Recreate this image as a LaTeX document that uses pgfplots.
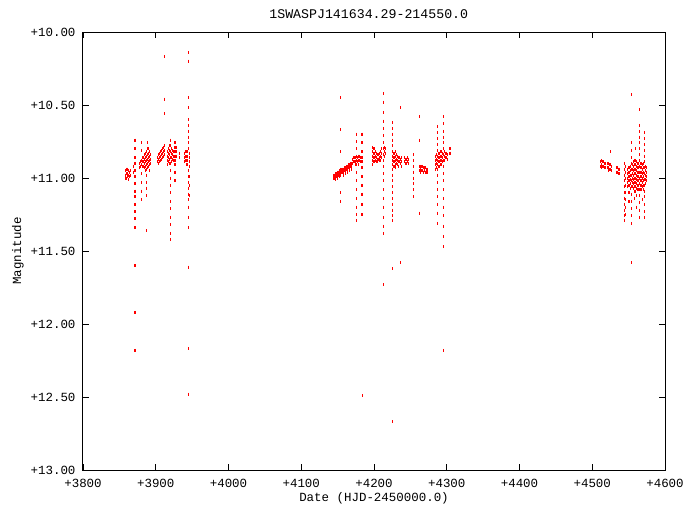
\documentclass[border=0pt]{standalone}
\usepackage{fontspec}
\setmainfont{Liberation Mono}
\usepackage{pgfplots}
\pgfplotsset{compat=1.18}
\begin{document}
\begin{tikzpicture}
\useasboundingbox (-83bp,-35bp) rectangle (600bp,470bp);
\begin{axis}[
 scale only axis, width=582bp, height=438bp,
 xmin=3800, xmax=4600, ymin=10, ymax=13, y dir=reverse,
 xtick={3800,3900,...,4600}, ytick={10,10.5,...,13},
 tick align=inside, major tick length=6bp,
 axis line style={line width=1bp},
 every tick/.style={black, line width=0.8bp},
 /pgf/number format/assume math mode=true,
 tick label style={font=\fontsize{12.5}{14}\selectfont},
 label style={font=\fontsize{12.5}{14}\selectfont},
 title style={font=\fontsize{13.3}{15}\selectfont, at={(axis description cs:0.491,1)}, anchor=center, yshift=12bp},
 xticklabel style={yshift=-6bp, /pgf/number format/.cd, print sign, 1000 sep={}, fixed, precision=0},
 yticklabel style={xshift=-4bp, /pgf/number format/.cd, print sign, fixed, fixed zerofill, precision=2},
 xlabel style={at={(axis description cs:0.5,-0.064)}, anchor=center},
 ylabel style={at={(axis description cs:-0.1117,0.5)}, anchor=center},
 title={1SWASPJ141634.29-214550.0},
 xlabel={Date (HJD-2450000.0)},
 ylabel={Magnitude},
]
\addplot[only marks, mark=|, mark size=1.5bp, red, mark options={line width=1.1bp}] coordinates {
(3858,10.95)(3858,10.98)(3858,11.00)
(3859.5,10.94)(3859.5,10.97)(3859.5,11.00)
(3861,10.94)(3861,10.97)(3861,10.99)
(3862.5,10.95)(3862.5,10.98)(3862.5,11.01)
(3864,10.96)(3864,10.99)
(3865.5,10.95)(3865.5,10.98)
(3870,10.92)(3870,10.96)
(3871.5,10.74)(3871.5,10.80)(3871.5,10.86)(3871.5,10.90)(3871.5,10.95)(3871.5,10.99)(3871.5,11.04)(3871.5,11.09)(3871.5,11.13)(3871.5,11.18)(3871.5,11.23)(3871.5,11.28)(3871.5,11.34)(3871.5,11.60)(3871.5,11.92)(3871.5,12.18)
(3878,10.90)(3878,10.93)
(3879.5,10.89)(3879.5,10.92)
(3881,10.76)(3881,10.81)(3881,10.88)(3881,10.91)(3881,10.97)(3881,11.03)(3881,11.09)(3881,11.15)
(3882.5,10.86)(3882.5,10.89)(3882.5,10.92)
(3884,10.84)(3884,10.87)(3884,10.90)(3884,10.93)
(3885.5,10.83)(3885.5,10.86)(3885.5,10.89)(3885.5,10.92)(3885.5,10.95)
(3887,10.82)(3887,10.85)(3887,10.88)(3887,10.91)(3887,10.94)(3887,10.98)(3887,11.03)(3887,11.07)(3887,11.12)(3887,11.36)
(3888.5,10.76)(3888.5,10.80)(3888.5,10.84)(3888.5,10.87)(3888.5,10.90)(3888.5,10.93)
(3890,10.80)(3890,10.83)(3890,10.86)(3890,10.89)(3890,10.92)
(3891.5,10.82)(3891.5,10.85)(3891.5,10.88)(3891.5,10.91)(3891.5,10.95)
(3893,10.84)(3893,10.87)(3893,10.90)
(3902,10.86)(3902,10.89)
(3903.5,10.84)(3903.5,10.87)(3903.5,10.90)
(3905,10.83)(3905,10.86)(3905,10.89)
(3906.5,10.82)(3906.5,10.85)(3906.5,10.88)
(3908,10.81)(3908,10.84)(3908,10.87)
(3909.5,10.80)(3909.5,10.83)(3909.5,10.86)
(3911,10.79)(3911,10.82)(3911,10.85)
(3912.5,10.78)(3912.5,10.81)(3912.5,10.84)(3912.5,10.17)(3912.5,10.46)(3912.5,10.56)
(3916,10.82)(3916,10.85)(3916,10.88)(3916,10.91)
(3917.5,10.80)(3917.5,10.83)(3917.5,10.86)(3917.5,10.89)
(3919,10.78)(3919,10.81)(3919,10.84)(3919,10.87)(3919,10.90)
(3920.5,10.74)(3920.5,10.78)(3920.5,10.82)(3920.5,10.86)(3920.5,10.90)(3920.5,10.95)(3920.5,11.00)(3920.5,11.05)(3920.5,11.10)(3920.5,11.16)(3920.5,11.21)(3920.5,11.27)(3920.5,11.32)(3920.5,11.38)(3920.5,11.42)
(3922,10.80)(3922,10.83)(3922,10.86)(3922,10.89)
(3923.5,10.81)(3923.5,10.84)(3923.5,10.87)
(3925,10.82)(3925,10.85)(3925,10.88)
(3926.5,10.76)(3926.5,10.79)(3926.5,10.82)(3926.5,10.85)(3926.5,10.88)(3926.5,10.91)(3926.5,10.96)(3926.5,11.02)
(3928,10.79)(3928,10.82)(3928,10.85)
(3933,10.83)(3933,10.86)
(3940,10.83)(3940,10.86)(3940,10.89)
(3941.5,10.82)(3941.5,10.85)(3941.5,10.88)
(3943,10.82)(3943,10.85)(3943,10.88)(3943,10.91)
(3944.5,10.14)(3944.5,10.20)(3944.5,10.45)(3944.5,10.52)(3944.5,10.60)(3944.5,10.64)(3944.5,10.68)(3944.5,10.72)(3944.5,10.76)(3944.5,10.80)(3944.5,10.95)(3944.5,10.99)(3944.5,11.03)(3944.5,11.07)(3944.5,11.11)(3944.5,11.15)(3944.5,11.20)(3944.5,11.27)(3944.5,11.34)(3944.5,11.61)(3944.5,12.17)(3944.5,12.48)
(3946,10.83)(3946,10.86)(3946,10.89)(3946,10.92)(3946,10.99)(3946,11.05)(3946,11.12)
(4145,10.98)(4145,11.00)
(4146.5,10.97)(4146.5,10.99)(4146.5,11.01)
(4148,10.97)(4148,10.99)
(4149.5,10.96)(4149.5,10.98)(4149.5,11.00)
(4151,10.96)(4151,10.98)
(4152.5,10.95)(4152.5,10.97)(4152.5,10.99)
(4154.5,10.45)(4154.5,10.67)(4154.5,10.82)(4154.5,10.94)(4154.5,10.96)(4154.5,10.98)(4154.5,11.10)(4154.5,11.16)
(4156,10.94)(4156,10.96)
(4157.5,10.94)(4157.5,10.96)(4157.5,10.98)
(4159,10.93)(4159,10.95)
(4160.5,10.93)(4160.5,10.95)(4160.5,10.97)
(4162,10.92)(4162,10.94)
(4163.5,10.92)(4163.5,10.94)(4163.5,10.96)
(4165,10.91)(4165,10.93)
(4166.5,10.91)(4166.5,10.93)(4166.5,10.95)
(4168,10.90)(4168,10.92)
(4169.5,10.90)(4169.5,10.92)(4169.5,10.94)
(4171,10.87)(4171,10.90)
(4172.5,10.86)(4172.5,10.89)
(4174,10.86)(4174,10.89)(4174,10.91)
(4175.5,10.70)(4175.5,10.75)(4175.5,10.80)(4175.5,10.85)(4175.5,10.88)(4175.5,10.91)(4175.5,10.96)(4175.5,11.02)(4175.5,11.08)(4175.5,11.14)(4175.5,11.20)(4175.5,11.25)(4175.5,11.29)
(4177,10.86)(4177,10.89)
(4178.5,10.85)(4178.5,10.88)(4178.5,10.91)
(4180,10.85)(4180,10.88)
(4181.5,10.86)(4181.5,10.89)
(4183.5,10.70)(4183.5,10.76)(4183.5,10.82)(4183.5,10.86)(4183.5,10.89)(4183.5,10.93)(4183.5,10.99)(4183.5,11.05)(4183.5,11.11)(4183.5,11.18)(4183.5,11.25)(4184.5,12.49)
(4198.5,10.79)(4198.5,10.82)(4198.5,10.85)(4198.5,10.88)(4198.5,10.91)
(4200,10.80)(4200,10.83)(4200,10.86)(4200,10.89)
(4201.5,10.82)(4201.5,10.85)(4201.5,10.88)
(4203,10.83)(4203,10.86)(4203,10.89)
(4204.5,10.84)(4204.5,10.87)(4204.5,10.89)
(4206,10.84)(4206,10.87)
(4207.5,10.83)(4207.5,10.86)(4207.5,10.88)
(4209,10.82)(4209,10.85)(4209,10.88)
(4210.5,10.80)(4210.5,10.83)(4210.5,10.86)
(4212.5,10.42)(4212.5,10.48)(4212.5,10.55)(4212.5,10.61)(4212.5,10.66)(4212.5,10.71)(4212.5,10.76)(4212.5,10.80)(4212.5,10.84)(4212.5,10.88)(4212.5,10.92)(4212.5,10.97)(4212.5,11.02)(4212.5,11.08)(4212.5,11.14)(4212.5,11.20)(4212.5,11.27)(4212.5,11.33)(4212.5,11.38)(4212.5,11.73)
(4214,10.79)(4214,10.82)(4214,10.85)
(4215.5,10.80)(4215.5,10.83)
(4226,10.62)(4226,10.66)(4226,10.70)(4226,10.74)(4226,10.78)(4226,10.82)(4226,10.85)(4226,10.88)(4226,10.91)(4226,10.94)(4226,10.98)(4226,11.02)(4226,11.06)(4226,11.10)(4226,11.14)(4226,11.18)(4226,11.22)(4226,11.26)(4226,11.29)(4226,11.62)(4226,12.67)
(4227.5,10.83)(4227.5,10.86)(4227.5,10.89)(4227.5,10.92)
(4229,10.82)(4229,10.85)(4229,10.88)(4229,10.91)(4229,10.93)
(4230.5,10.84)(4230.5,10.87)(4230.5,10.90)
(4232,10.85)(4232,10.88)(4232,10.91)
(4233.5,10.86)(4233.5,10.89)(4233.5,10.92)
(4235,10.86)(4235,10.89)
(4236.5,10.87)(4236.5,10.90)(4236.5,10.52)(4236.5,11.58)
(4238,10.86)(4238,10.89)(4238,10.92)
(4242.5,10.86)(4242.5,10.89)
(4244,10.87)(4244,10.90)
(4245.5,10.86)(4245.5,10.89)
(4247,10.87)(4247,10.90)
(4254,10.84)(4254,10.88)(4254,10.92)(4254,10.96)(4254,11.00)(4254,11.04)(4254,11.08)(4254,11.13)
(4263,10.92)(4263,10.95)(4263,10.58)(4263,10.74)(4263,11.24)
(4264.5,10.92)(4264.5,10.94)(4264.5,10.96)
(4266,10.92)(4266,10.95)
(4267.5,10.93)(4267.5,10.96)
(4269,10.93)(4269,10.95)
(4270.5,10.93)(4270.5,10.96)
(4272,10.94)(4272,10.96)
(4273.5,10.94)(4273.5,10.96)
(4284,10.85)(4284,10.88)(4284,10.91)(4284,10.94)
(4285.5,10.84)(4285.5,10.87)(4285.5,10.90)(4285.5,10.93)
(4287,10.65)(4287,10.69)(4287,10.73)(4287,10.77)(4287,10.81)(4287,10.85)(4287,10.88)(4287,10.91)(4287,10.94)(4287,10.98)(4287,11.03)(4287,11.08)(4287,11.13)(4287,11.18)(4287,11.24)(4287,11.31)
(4288.5,10.83)(4288.5,10.86)(4288.5,10.89)(4288.5,10.92)
(4290,10.83)(4290,10.86)(4290,10.89)(4290,10.92)
(4291.5,10.82)(4291.5,10.85)(4291.5,10.88)(4291.5,10.91)
(4293,10.82)(4293,10.85)(4293,10.88)(4293,10.91)
(4294.5,10.83)(4294.5,10.86)(4294.5,10.89)
(4296,10.58)(4296,10.63)(4296,10.68)(4296,10.72)(4296,10.76)(4296,10.80)(4296,10.84)(4296,10.88)(4296,10.92)(4296,10.97)(4296,11.02)(4296,11.08)(4296,11.14)(4296,11.20)(4296,11.26)(4296,11.33)(4296,11.40)(4296,11.47)(4296,12.18)
(4297.5,10.82)(4297.5,10.85)(4297.5,10.88)
(4299,10.83)(4299,10.86)
(4300.5,10.84)(4300.5,10.87)
(4304.5,10.80)(4304.5,10.83)
(4511.5,10.89)(4511.5,10.92)
(4513,10.88)(4513,10.91)(4513,10.93)
(4514.5,10.89)(4514.5,10.92)
(4516,10.89)(4516,10.92)
(4517.5,10.90)(4517.5,10.93)
(4520.5,10.90)(4520.5,10.93)
(4522,10.90)(4522,10.93)(4522,10.95)
(4523.5,10.91)(4523.5,10.94)
(4525,10.91)(4525,10.94)(4525,10.82)
(4526.5,10.92)(4526.5,10.95)
(4533,10.93)(4533,10.96)
(4534.5,10.93)(4534.5,10.96)
(4536,10.94)(4536,10.97)
(4537.5,10.94)(4537.5,10.97)
(4544,10.90)(4544,10.94)(4544,10.98)(4544,11.02)(4544,11.06)(4544,11.10)(4544,11.14)(4544,11.18)(4544,11.22)(4544,11.26)(4544,11.29)
(4546,10.92)(4546,10.96)(4546,11.00)(4546,11.05)(4546,11.10)(4546,11.15)(4546,11.20)(4546,11.25)
(4549,10.94)(4549,10.97)(4549,11.00)(4549,11.03)(4549,11.06)
(4550.5,10.93)(4550.5,10.96)(4550.5,10.99)(4550.5,11.02)(4550.5,11.05)(4550.5,11.10)(4550.5,11.16)
(4552,10.92)(4552,10.95)(4552,10.98)(4552,11.01)(4552,11.04)(4552,11.07)
(4553.5,10.43)(4553.5,10.76)(4553.5,10.81)(4553.5,10.86)(4553.5,10.90)(4553.5,10.94)(4553.5,10.98)(4553.5,11.02)(4553.5,11.06)(4553.5,11.11)(4553.5,11.16)(4553.5,11.21)(4553.5,11.26)(4553.5,11.31)(4553.5,11.58)
(4555,10.91)(4555,10.94)(4555,10.97)(4555,11.00)(4555,11.03)(4555,11.06)
(4556.5,10.89)(4556.5,10.92)(4556.5,10.95)(4556.5,10.98)(4556.5,11.01)(4556.5,11.04)(4556.5,11.07)
(4558,10.88)(4558,10.91)(4558,10.94)(4558,10.97)(4558,11.00)(4558,11.03)(4558,11.06)(4558,11.09)(4558,11.14)
(4559.5,10.80)(4559.5,10.88)(4559.5,10.91)(4559.5,10.94)(4559.5,10.97)(4559.5,11.00)(4559.5,11.03)(4559.5,11.06)(4559.5,11.09)
(4561,10.89)(4561,10.92)(4561,10.95)(4561,10.98)(4561,11.01)(4561,11.04)(4561,11.07)(4561,11.12)(4561,11.20)
(4562.5,10.90)(4562.5,10.93)(4562.5,10.96)(4562.5,10.99)(4562.5,11.02)(4562.5,11.05)(4562.5,11.08)
(4564,10.90)(4564,10.93)(4564,10.96)(4564,10.99)(4564,11.02)(4564,11.05)(4564,11.08)
(4565.5,10.53)(4565.5,10.64)(4565.5,10.68)(4565.5,10.72)(4565.5,10.76)(4565.5,10.80)(4565.5,10.84)(4565.5,10.88)(4565.5,10.92)(4565.5,10.96)(4565.5,11.00)(4565.5,11.04)(4565.5,11.08)(4565.5,11.12)(4565.5,11.17)(4565.5,11.22)(4565.5,11.27)
(4567,10.90)(4567,10.93)(4567,10.96)(4567,10.99)(4567,11.02)(4567,11.05)(4567,11.08)
(4568.5,10.91)(4568.5,10.94)(4568.5,10.97)(4568.5,11.00)(4568.5,11.03)(4568.5,11.06)(4568.5,11.15)
(4570,10.90)(4570,10.93)(4570,10.96)(4570,10.99)(4570,11.02)(4570,11.05)(4570,11.08)
(4571.5,10.69)(4571.5,10.73)(4571.5,10.77)(4571.5,10.81)(4571.5,10.85)(4571.5,10.89)(4571.5,10.93)(4571.5,10.97)(4571.5,11.01)(4571.5,11.05)(4571.5,11.09)(4571.5,11.13)(4571.5,11.18)(4571.5,11.23)(4571.5,11.27)
(4573,10.92)(4573,10.95)(4573,10.98)(4573,11.01)(4573,11.04)
(4574.5,10.93)(4574.5,10.96)(4574.5,10.99)(4574.5,11.02)
};
\end{axis}
\end{tikzpicture}
\end{document}
